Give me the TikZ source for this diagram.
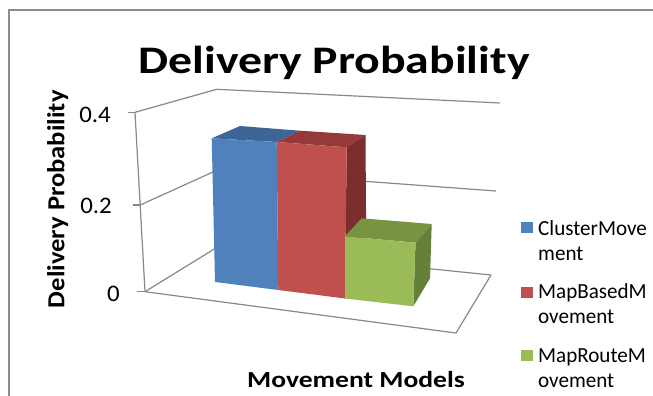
\documentclass[tikz,border=0pt]{standalone}
\usepackage{fontspec}
\setmainfont{Carlito}
\definecolor{framegray}{HTML}{8C8C8C}
\definecolor{gridgray}{HTML}{888888}
\definecolor{bluefront}{HTML}{4F81BD}
\definecolor{bluetop}{HTML}{3D6697}
\definecolor{redfront}{HTML}{C0504D}
\definecolor{redtop}{HTML}{953A38}
\definecolor{redside}{HTML}{7B2E2D}
\definecolor{greenfront}{HTML}{9BBB59}
\definecolor{greentop}{HTML}{789442}
\definecolor{greenside}{HTML}{66803A}
\begin{document}
\begin{tikzpicture}[x=1pt,y=1pt,
  gridline/.style={gridgray,line width=1.2pt},
  ticklabel/.style={anchor=east,inner sep=0pt,xscale=1.05,font=\fontsize{23.7}{28}\selectfont},
  legkey/.style={minimum width=12pt,minimum height=11pt,inner sep=0pt},
  legtext/.style={anchor=base west,inner sep=0pt,align=left,xscale=0.98,font=\fontsize{21.5}{25}\selectfont}]
\useasboundingbox (0,0) rectangle (653,-396);
\fill[white] (0,0) rectangle (653,-396);
% chart frame
\draw[framegray,line width=2pt] (9,-396) -- (9,-10) -- (653,-10);
% walls and gridlines
\draw[gridline] (135,-112.3) -- (216.7,-89.3) -- (500,-103);
\draw[gridline] (140.2,-205) -- (216.7,-170.3) -- (495.8,-191);
\draw[gridline] (145,-291.7) -- (217.5,-247) -- (491,-275);
\draw[gridline] (135,-112.3) -- (145,-291.7);
\draw[gridline] (145,-291.7) -- (456,-333) -- (491,-275);
% ticks
\draw[gridline] (128.3,-112.3) -- (135,-112.3);
\draw[gridline] (132.5,-205) -- (140.2,-205);
\draw[gridline] (136.7,-291.7) -- (145,-291.7);
% blue bar
\fill[bluetop] (211.7,-138.3) -- (240,-126) -- (300,-130.7) -- (276.7,-142) -- cycle;
\fill[bluefront] (211.7,-138.3) -- (276.7,-142) -- (278.3,-290) -- (215,-282) -- cycle;
% red bar
\fill[redtop] (276.7,-142) -- (300,-130.7) -- (365.5,-135) -- (346.7,-147.3) -- cycle;
\fill[redside] (346.7,-147.3) -- (365.5,-135) -- (366.5,-285) -- (345,-298.5) -- cycle;
\fill[redfront] (276.7,-142) -- (346.7,-147.3) -- (345,-298.5) -- (278.3,-290) -- cycle;
% green bar
\fill[greentop] (345,-236.3) -- (361.7,-218.3) -- (431.7,-224) -- (415.5,-242.7) -- cycle;
\fill[greenside] (415.5,-242.7) -- (431.7,-224) -- (430,-278.3) -- (413.3,-306.3) -- cycle;
\fill[greenfront] (345,-236.3) -- (415.5,-242.7) -- (413.3,-306.3) -- (345,-298.5) -- cycle;
% titles
\node[anchor=base,inner sep=0pt,xscale=1.225,font=\fontsize{39}{46}\selectfont\bfseries] (title) at (334,-73.5) {Delivery Probability};
\node[inner sep=0pt,rotate=90,xscale=1.085,font=\fontsize{24.5}{29}\selectfont\bfseries] (ytitle) at (57.7,-199.2) {Delivery Probability};
\node[anchor=base,inner sep=0pt,xscale=1.2,font=\fontsize{23}{27}\selectfont\bfseries] (xtitle) at (356,-387) {Movement Models};
% tick labels
\node[ticklabel] (tick4) at (111,-114.5) {0.4};
\node[ticklabel] (tick2) at (112,-206) {0.2};
\node[ticklabel] (tick0) at (120,-294) {0};
% legend
\node[legkey,fill=bluefront] (key1) at (527,-227.5) {};
\node[legtext] (leg1) at (538,-260) {ClusterMove\\ment};
\node[legkey,fill=redfront] (key2) at (527,-292.5) {};
\node[legtext] (leg2) at (538,-323) {MapBasedM\\ovement};
\node[legkey,fill=greenfront] (key3) at (527,-355.5) {};
\node[legtext] (leg3) at (538,-387) {MapRouteM\\ovement};
\end{tikzpicture}
\end{document}
